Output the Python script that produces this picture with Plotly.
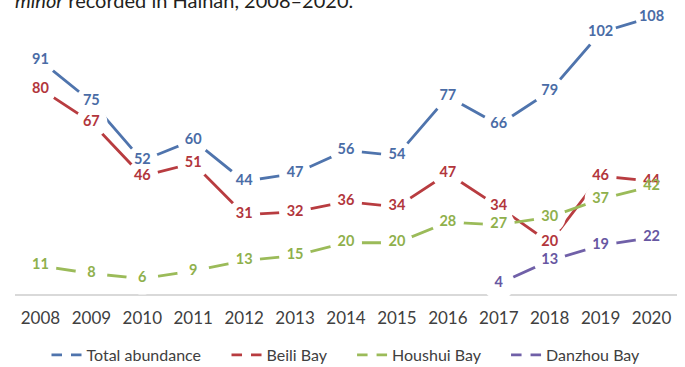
import plotly.graph_objects as go

years = ["2008", "2009", "2010", "2011", "2012", "2013", "2014",
         "2015", "2016", "2017", "2018", "2019", "2020"]
total_abundance = [91, 75, 52, 60, 44, 47, 56, 54, 77, 66, 79, 102, 108]
beili_bay = [80, 67, 46, 51, 31, 32, 36, 34, 47, 34, 20, 46, 44]
houshui_bay = [11, 8, 6, 9, 13, 15, 20, 20, 28, 27, 30, 37, 42]
danzhou_bay = [None, None, None, None, None, None, None, None, None, 4, 13, 19, 22]

series = [
    ("Total abundance", total_abundance, "#4f74ad", "#4a6ca6"),
    ("Beili Bay", beili_bay, "#b83c40", "#b2363c"),
    ("Houshui Bay", houshui_bay, "#9bbb59", "#8fb04c"),
    ("Danzhou Bay", danzhou_bay, "#7060a8", "#6757a2"),
]

FONT = "Lato, 'Open Sans', sans-serif"
PAD = "\u00a0" * 5

fig = go.Figure()

# lines with white markers (marker hides the line around each point)
for name, vals, col, _ in series:
    fig.add_trace(go.Scatter(
        x=years, y=vals, name=name, mode="lines+markers",
        line=dict(color=col, width=2.8),
        marker=dict(symbol="circle", size=32, color="white", line=dict(width=0)),
        cliponaxis=False, hoverinfo="skip", showlegend=False,
    ))

# data labels on top
for name, vals, _, tcol in series:
    fig.add_trace(go.Scatter(
        x=years, y=vals, mode="text",
        text=["" if v is None else str(v) for v in vals],
        textposition="middle center",
        textfont=dict(family=FONT, size=14.5, color=tcol, weight="bold"),
        showlegend=False, cliponaxis=False, hoverinfo="skip",
    ))

# legend entries (dash - gap - dash look)
for i, (name, vals, col, _) in enumerate(series):
    fig.add_trace(go.Scatter(
        x=[None], y=[None], name=name + (PAD if i < len(series) - 1 else ""),
        mode="lines+markers",
        line=dict(color=col, width=2.8),
        marker=dict(symbol="square", size=9, color="white", line=dict(width=0)),
        hoverinfo="skip",
    ))

fig.add_annotation(
    text="<i>minor</i> recorded in Hainan, 2008–2020.",
    xref="paper", yref="paper", x=0, y=1, xanchor="left", yanchor="bottom",
    xshift=-2, yshift=-2, showarrow=False,
    font=dict(family=FONT, size=20, color="#231f20"),
)

fig.update_layout(
    width=685, height=367,
    margin=dict(l=15, r=8, t=12, b=73, autoexpand=False),
    paper_bgcolor="white", plot_bgcolor="white",
    font=dict(family=FONT, color="#404040"),
    showlegend=True,
    hovermode=False,
    legend=dict(orientation="h", x=0.5, xanchor="center",
                y=-0.216, yanchor="middle",
                font=dict(family=FONT, size=16, color="#404040"),
                itemsizing="trace", tracegroupgap=0),
    xaxis=dict(type="category", range=[-0.5, 12.5], showgrid=False, zeroline=False,
               showline=True, linecolor="#d9d9d9", linewidth=1.5, ticks="",
               tickfont=dict(family=FONT, size=17, color="#404040"),
               ticklabelstandoff=8, layer="below traces", fixedrange=True,
               automargin=False),
    yaxis=dict(range=[0, 110], visible=False, showgrid=False, zeroline=False,
               fixedrange=True, automargin=False),
)

fig.write_html(
    "out.html",
    config={"displayModeBar": False, "staticPlot": False},
    post_script="document.body.style.margin='0';document.body.style.overflow='hidden';",
)
